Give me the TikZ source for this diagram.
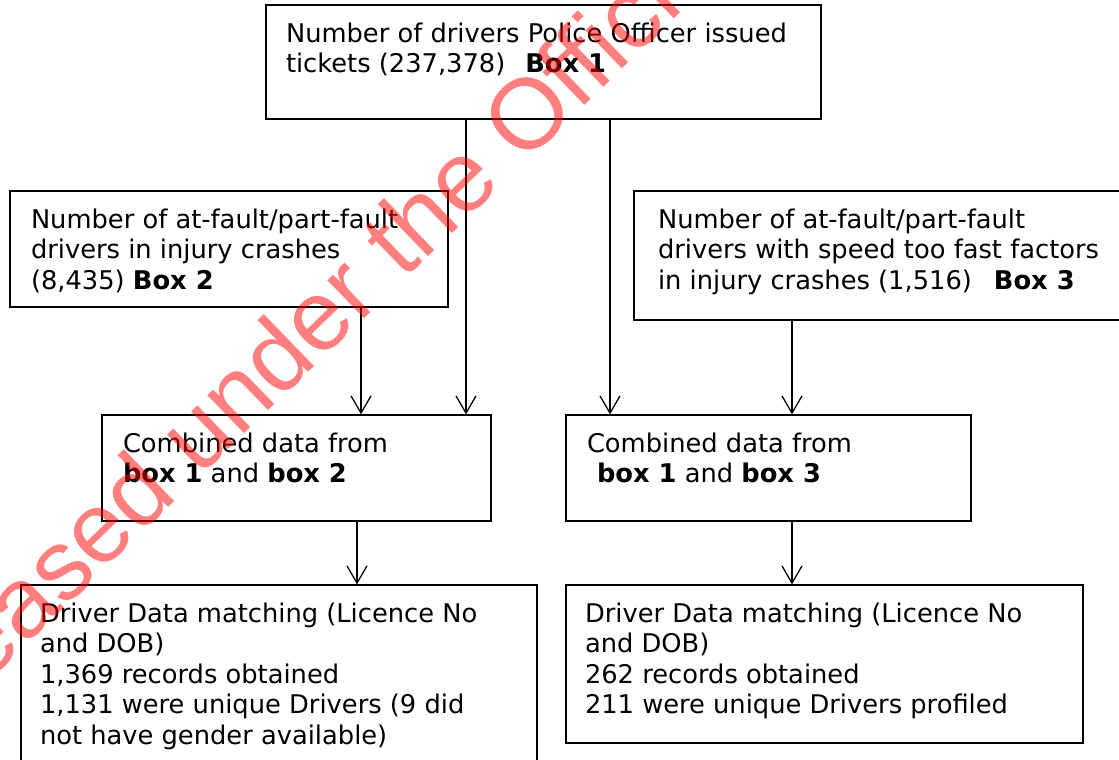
\documentclass[tikz,border=0pt]{standalone}
\usepackage{fontspec}
\setmainfont{DejaVu Sans}
\newfontfamily\stampfont{Liberation Sans}
\usetikzlibrary{arrows.meta, positioning, calc}
\tikzset{
  every picture/.style={line width=0.9pt},
  box/.style 2 args={draw, rectangle, inner sep=0pt, minimum width=#1*0.025cm, minimum height=#2*0.025cm},
  boxtext/.style={anchor=north west, inner sep=0pt, align=left, font=\fontsize{18.3}{21.7}\selectfont},
  arrow/.style={-{Straight Barb[length=4.3mm, width=5mm]}},
  stamp/.style={anchor=base west, rotate=44, inner sep=0pt, text=red, text opacity=0.5, font=\stampfont\fontsize{71}{71}\selectfont},
}

\begin{document}
\begin{tikzpicture}[x=0.025cm, y=-0.025cm]
  \useasboundingbox (0,0) rectangle (1119,760);
  % boxes
  \node[box={555}{114}] (tickets) at (543.5,62) {};
  \node[box={438}{116}] (injury) at (229,249) {};
  \node[box={491}{129}] (speed) at (879.5,255.5) {};
  \node[box={389}{106}] (comb2) at (296.5,468) {};
  \node[box={405}{106}] (comb3) at (768.5,468) {};
  \node[box={516}{185}] (match2) at (279,677.5) {};
  \node[box={517}{158}] (match3) at (824.5,664) {};
  % box texts
  \node[boxtext] (t1) at ($(tickets.north west)+(20,17.5)$) {Number of drivers Police Officer issued\\tickets (237,378)\hspace{0.5cm}\textbf{Box 1}};
  \node[boxtext] (t2) at ($(injury.north west)+(21,17.5)$) {Number of at-fault/part-fault\\drivers in injury crashes\\(8,435) \textbf{Box 2}};
  \node[boxtext] (t3) at ($(speed.north west)+(24,17.5)$) {Number of at-fault/part-fault\\drivers with speed too fast factors\\in injury crashes (1,516)\hspace{0.55cm}\textbf{Box 3}};
  \node[boxtext] (t4) at ($(comb2.north west)+(21,17.5)$) {Combined data from\\\textbf{box 1} and \textbf{box 2}};
  \node[boxtext] (t5) at ($(comb3.north west)+(21,17.5)$) {Combined data from\\\hspace*{0.25cm}\textbf{box 1} and \textbf{box 3}};
  \node[boxtext] (t6) at ($(match2.north west)+(19,17.5)$) {Driver Data matching (Licence No\\and DOB)\\1,369 records obtained\\1,131 were unique Drivers (9 did\\not have gender available)};
  \node[boxtext] (t7) at ($(match3.north west)+(19,17.5)$) {Driver Data matching (Licence No\\and DOB)\\262 records obtained\\211 were unique Drivers profiled};
  % arrow columns
  \coordinate (xa) at (361,0);
  \coordinate (xb) at (466,0);
  \coordinate (xc) at (610,0);
  \coordinate (xd) at (792,0);
  \coordinate (xe) at (357,0);
  \draw[arrow] (injury.south -| xa) -- (comb2.north -| xa);
  \draw[arrow] (tickets.south -| xb) -- (comb2.north -| xb);
  \draw[arrow] (tickets.south -| xc) -- (comb3.north -| xc);
  \draw[arrow] (speed.south -| xd) -- (comb3.north -| xd);
  \draw[arrow] (comb2.south -| xe) -- (match2.north -| xe);
  \draw[arrow] (comb3.south -| xd) -- (match3.north -| xd);
  % watermark
  \node[stamp] (mark) at (-124,790) {Released under the Official Information Act};
\end{tikzpicture}
\end{document}
